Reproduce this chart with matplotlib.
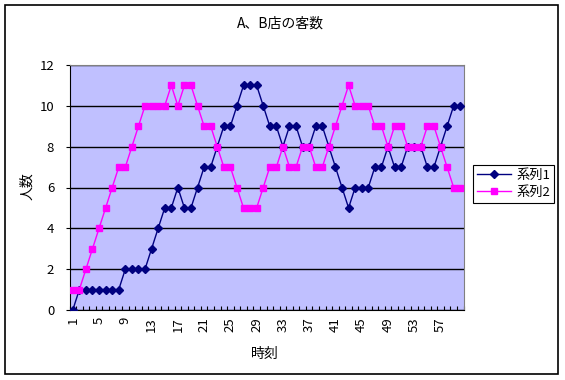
import numpy as np
import matplotlib
matplotlib.use("Agg")
import matplotlib.pyplot as plt
from matplotlib.patches import Rectangle

plt.rcParams["font.family"] = ["Noto Sans CJK JP", "DejaVu Sans"]

TITLE = "A、B店の客数"
X_LABEL = "時刻"
Y_LABEL = "人数"
SERIES_NAMES = ["系列1", "系列2"]

times = list(range(1, 61))
series1 = [0, 1, 1, 1, 1, 1, 1, 1, 2, 2, 2, 2, 3, 4, 5, 5, 6, 5, 5, 6,
           7, 7, 8, 9, 9, 10, 11, 11, 11, 10, 9, 9, 8, 9, 9, 8, 8, 9, 9, 8,
           7, 6, 5, 6, 6, 6, 7, 7, 8, 7, 7, 8, 8, 8, 7, 7, 8, 9, 10, 10]
series2 = [1, 1, 2, 3, 4, 5, 6, 7, 7, 8, 9, 10, 10, 10, 10, 11, 10, 11, 11, 10,
           9, 9, 8, 7, 7, 6, 5, 5, 5, 6, 7, 7, 8, 7, 7, 8, 8, 7, 7, 8,
           9, 10, 11, 10, 10, 10, 9, 9, 8, 9, 9, 8, 8, 8, 9, 9, 8, 7, 6, 6]
x_tick_labels = times[::4]
y_ticks = [0, 2, 4, 6, 8, 10, 12]

W, H = 565, 380
fig = plt.figure(figsize=(W / 100, H / 100), dpi=100)
fig.patch.set_facecolor("white")

# outer chart border
fig.patches.append(Rectangle((5 / W, 6 / H), 553 / W, 369 / H, transform=fig.transFigure,
                             fill=False, edgecolor="black", linewidth=1.2))

ax = fig.add_axes([69.5 / W, (H - 310) / H, 394 / W, 245 / H])
ax.set_facecolor("#C0C0FF")

ax.plot(times, series1, color="#000080", marker="D", markersize=4, linewidth=1,
        label=SERIES_NAMES[0], zorder=3)
ax.plot(times, series2, color="#FF00FF", marker="s", markersize=4.3, linewidth=1,
        label=SERIES_NAMES[1], zorder=4)

ax.set_xlim(0.5, 60.5)
ax.set_ylim(0, 12)
ax.set_yticks(y_ticks)
ax.yaxis.grid(True, color="black", linewidth=1)
ax.set_axisbelow(True)

ax.set_xticks(x_tick_labels)
ax.set_xticklabels([str(v) for v in x_tick_labels], rotation=90, fontsize=9.5)
ax.tick_params(axis="x", length=0, pad=5)
ax.set_xticks(np.arange(0.5, 61, 1), minor=True)
ax.tick_params(axis="x", which="minor", direction="in", length=3, width=0.8)
ax.tick_params(axis="y", direction="out", length=3, labelsize=9.5, pad=8)

for side in ("top", "right"):
    ax.spines[side].set_color("#808080")
for side in ("left", "bottom"):
    ax.spines[side].set_color("black")

fig.text(280 / W, 1 - 24 / H, TITLE, ha="center", va="center", fontsize=10)
fig.text(265 / W, 1 - 354 / H, X_LABEL, ha="center", va="center", fontsize=10)
fig.text(27 / W, 1 - 186 / H, Y_LABEL, ha="center", va="center", rotation=90, fontsize=10)

leg = fig.legend(loc="upper left", bbox_to_anchor=(473 / W, 1 - 165 / H), fontsize=9.5,
                 frameon=True, fancybox=False, edgecolor="black", framealpha=1,
                 handlelength=2.6, borderpad=0.3, labelspacing=0.3, handletextpad=0.4,
                 borderaxespad=0)
leg.get_frame().set_linewidth(0.8)

fig.savefig("out.png", dpi=100)
